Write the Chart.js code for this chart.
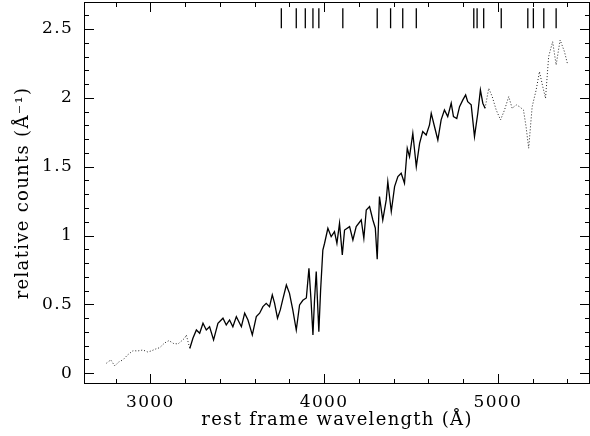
<!DOCTYPE html>
<html>
<head>
<meta charset="utf-8">
<script src="https://cdn.jsdelivr.net/npm/chart.js@4"></script>
<style>
  html, body { margin: 0; padding: 0; background: #fff; }
  #wrap { width: 590px; height: 436px; }
</style>
</head>
<body>
<div id="wrap"><canvas id="spec"></canvas></div>
<script>
// spectrum: blue end (dotted), main part (solid), red end (dotted)
const blueWave = [2747, 2772, 2795, 2818, 2842, 2869, 2900, 2927, 2957, 2984, 3005, 3030, 3054, 3082, 3107, 3134, 3159, 3180, 3197, 3207, 3227];
const blueFlux = [0.073, 0.097, 0.053, 0.082, 0.097, 0.133, 0.164, 0.162, 0.169, 0.155, 0.162, 0.176, 0.186, 0.22, 0.237, 0.216, 0.213, 0.235, 0.254, 0.278, 0.18];

const solidWave = [3227, 3245, 3265, 3284, 3303, 3322, 3341, 3364, 3389, 3418, 3437, 3456, 3475, 3495, 3524, 3543, 3562, 3587, 3610, 3629,
  3648, 3667, 3686, 3702, 3715, 3732, 3748, 3761, 3783, 3801, 3820, 3840, 3859, 3878, 3898, 3913, 3925, 3936, 3945, 3955,
  3962, 3970, 3980, 3993, 4003, 4022, 4041, 4060, 4074, 4089, 4105, 4118, 4147, 4166, 4185, 4214, 4229, 4243, 4262, 4281,
  4295, 4306, 4319, 4338, 4358, 4367, 4387, 4406, 4425, 4444, 4463, 4479, 4492, 4511, 4531, 4550, 4568, 4588, 4607, 4617,
  4636, 4655, 4674, 4693, 4712, 4732, 4745, 4764, 4780, 4799, 4815, 4827, 4847, 4866, 4885, 4900, 4914, 4927];
const solidFlux = [0.18, 0.254, 0.314, 0.29, 0.363, 0.314, 0.338, 0.242, 0.363, 0.40, 0.351, 0.387, 0.338, 0.411, 0.338, 0.436, 0.387, 0.278, 0.411, 0.436,
  0.484, 0.508, 0.484, 0.569, 0.51, 0.40, 0.46, 0.53, 0.641, 0.58, 0.46, 0.314, 0.496, 0.53, 0.547, 0.762, 0.53, 0.278, 0.53, 0.738,
  0.53, 0.302, 0.60, 0.895, 0.944, 1.053, 0.992, 1.028, 0.944, 1.089, 0.859, 1.04, 1.065, 0.968, 1.065, 1.113, 0.98, 1.186, 1.21, 1.113,
  1.055, 0.828, 1.283, 1.113, 1.259, 1.391, 1.174, 1.355, 1.428, 1.452, 1.38, 1.634, 1.573, 1.743, 1.50, 1.67, 1.755, 1.73, 1.803, 1.888,
  1.79, 1.694, 1.84, 1.912, 1.864, 1.961, 1.864, 1.85, 1.936, 1.985, 2.021, 1.972, 1.949, 1.718, 1.888, 2.057, 1.961, 1.924];

const redWave = [4927, 4948, 4968, 4991, 5016, 5039, 5063, 5083, 5106, 5125, 5148, 5163, 5178, 5198, 5221, 5240, 5259, 5275, 5293, 5316, 5336, 5359, 5384, 5403];
const redFlux = [1.924, 2.07, 2.009, 1.912, 1.84, 1.912, 2.009, 1.924, 1.949, 1.936, 1.912, 1.79, 1.634, 1.936, 2.057, 2.19, 2.082, 1.997, 2.30, 2.408, 2.239, 2.42, 2.335, 2.239];

// feature markers along the top
const lineWave = [3754, 3840, 3892, 3936, 3970, 4108, 4306, 4383, 4453, 4531, 4862, 4881, 4919, 5020, 5173, 5205, 5265, 5336];
const markLow = 2.505;
const markHigh = 2.65;

const xTickValues = [3000, 4000, 5000];
const yTickValues = [0, 0.5, 1, 1.5, 2, 2.5];

const xMin = 2618, xMax = 5531;
const yMin = -0.078, yMax = 2.696;

function pairs(xs, ys) {
  return xs.map((v, i) => ({ x: v, y: ys[i] }));
}

const markData = [];
lineWave.forEach(w => {
  markData.push({ x: w, y: markLow }, { x: w, y: markHigh }, { x: w, y: null });
});

// wide lettering like the original plot
const wideText = {
  id: 'wideText',
  beforeDraw(chart) {
    chart.ctx.letterSpacing = '1.3px';
  }
};

// frame with inward ticks on all four sides
const frameTicks = {
  id: 'frameTicks',
  afterDatasetsDraw(chart) {
    const { ctx, chartArea: a, scales: { x, y } } = chart;
    ctx.save();
    ctx.strokeStyle = '#000';
    ctx.lineWidth = 1;
    ctx.strokeRect(a.left + 0.5, a.top + 0.5, a.right - a.left - 1, a.bottom - a.top - 1);
    ctx.beginPath();
    for (let w = 2800; w <= 5400; w += 200) {
      const px = Math.round(x.getPixelForValue(w)) + 0.5;
      const len = w % 1000 === 0 ? 10 : 5;
      ctx.moveTo(px, a.bottom); ctx.lineTo(px, a.bottom - len);
      ctx.moveTo(px, a.top); ctx.lineTo(px, a.top + len);
    }
    for (let k = 0; k <= 26; k++) {
      const py = Math.round(y.getPixelForValue(k / 10)) + 0.5;
      const len = k % 5 === 0 ? 10 : 5;
      ctx.moveTo(a.left, py); ctx.lineTo(a.left + len, py);
      ctx.moveTo(a.right, py); ctx.lineTo(a.right - len, py);
    }
    ctx.stroke();
    ctx.restore();
  }
};

const tickFont = { family: 'DejaVu Serif', size: 17 };
const titleFont = { family: 'DejaVu Serif', size: 18 };

new Chart(document.getElementById('spec'), {
  type: 'line',
  data: {
    datasets: [
      { data: pairs(blueWave, blueFlux), borderColor: '#222', borderWidth: 1, borderDash: [1, 2] },
      { data: pairs(solidWave, solidFlux), borderColor: '#000', borderWidth: 1.3 },
      { data: pairs(redWave, redFlux), borderColor: '#222', borderWidth: 1, borderDash: [1, 2] },
      { data: markData, borderColor: '#000', borderWidth: 1.3, spanGaps: false }
    ]
  },
  options: {
    responsive: true,
    maintainAspectRatio: false,
    animation: false,
    events: [],
    layout: { padding: { top: 2, right: 0, left: 0, bottom: 0 } },
    elements: { point: { radius: 0 }, line: { tension: 0 } },
    plugins: { legend: { display: false }, tooltip: { enabled: false } },
    scales: {
      x: {
        type: 'linear',
        min: xMin, max: xMax,
        afterBuildTicks: s => { s.ticks = xTickValues.map(v => ({ value: v })); },
        afterFit: s => { s.height = 52; s.paddingLeft = 0; s.paddingRight = 0; },
        grid: { display: false, drawTicks: false },
        border: { display: false },
        ticks: { color: '#000', font: tickFont, padding: 8, maxRotation: 0, callback: v => String(v) },
        title: { display: true, text: 'rest frame wavelength (Å)', color: '#000', font: titleFont, padding: { top: 0, bottom: 5 } }
      },
      y: {
        type: 'linear',
        min: yMin, max: yMax,
        afterBuildTicks: s => { s.ticks = yTickValues.map(v => ({ value: v })); },
        afterFit: s => { s.width = 84; s.paddingTop = 0; s.paddingBottom = 0; },
        grid: { display: false, drawTicks: false },
        border: { display: false },
        ticks: { color: '#000', font: tickFont, padding: 11, callback: v => String(v) },
        title: { display: true, text: 'relative counts (Å⁻¹)', color: '#000', font: titleFont, padding: { top: 13, bottom: 0 } }
      }
    }
  },
  plugins: [wideText, frameTicks]
});
</script>
</body>
</html>
